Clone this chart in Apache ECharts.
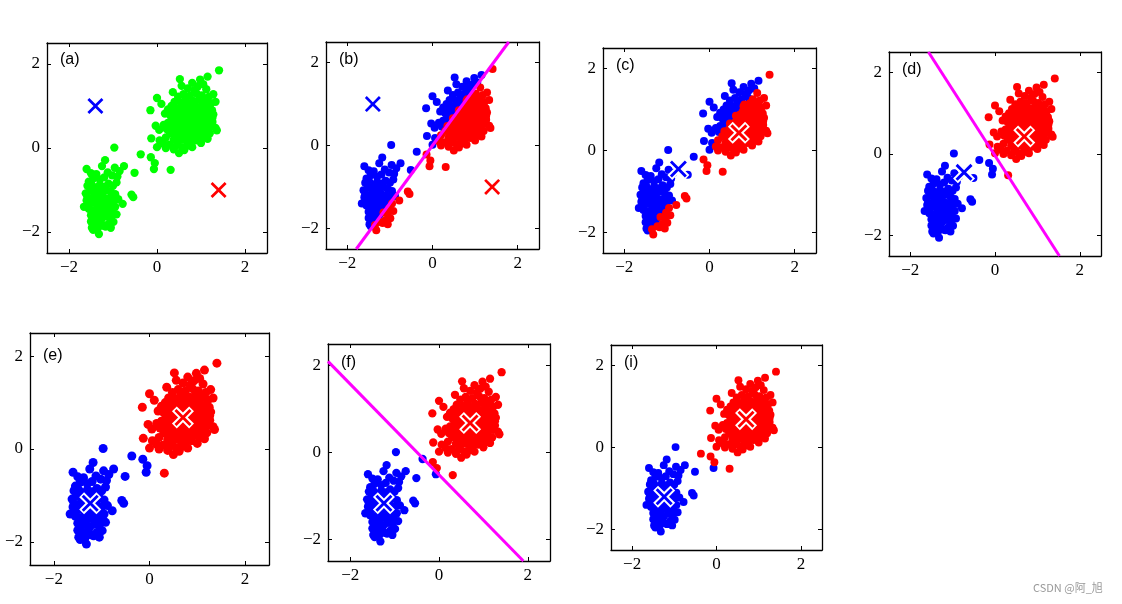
<!DOCTYPE html>
<html>
<head>
<meta charset="utf-8">
<script src="https://cdn.jsdelivr.net/npm/echarts@6/dist/echarts.min.js"></script>
<style>
  html, body { margin: 0; padding: 0; background: #fff; }
  #chart { width: 1122px; height: 604px; }
</style>
</head>
<body>
<div id="chart"></div>
<script>
// Old Faithful (standardised) points
const upperCluster = [
  [1.41,1.85],[1.15,1.70],[0.98,1.63],[0.80,1.55],[0.52,1.64],[0.56,1.48],[0.93,1.47],[1.05,1.52],[0.70,1.42],[1.12,1.40],[0.85,1.38],
  [0.36,1.33],[0.60,1.28],[1.28,1.28],[1.33,1.10],[0.00,1.19],[0.48,1.22],[0.75,1.25],[0.90,1.30],[1.02,1.25],[1.18,1.22],[0.65,1.15],
  [0.82,1.12],[0.95,1.15],[1.10,1.12],[0.40,1.10],[0.55,1.08],[1.22,1.05],
  [0.10,1.05],[-0.15,0.90],[0.25,0.92],[0.33,1.00],[0.45,0.95],[0.58,0.98],[0.70,1.02],[0.78,0.95],[0.88,1.00],[1.00,0.98],[1.08,0.92],
  [1.17,0.95],[1.25,0.90],[0.38,0.85],[0.52,0.88],[0.62,0.85],[0.72,0.88],[0.85,0.85],[0.95,0.88],[1.07,0.88],[1.15,0.82],[1.28,0.80],
  [0.18,0.82],[0.30,0.78],
  [0.42,0.75],[0.55,0.78],[0.66,0.76],[0.78,0.78],[0.90,0.75],[1.00,0.77],[1.10,0.73],[1.20,0.70],[0.35,0.68],[0.48,0.66],[0.60,0.68],
  [0.72,0.66],[0.84,0.68],[0.96,0.65],[1.05,0.62],[1.16,0.60],[1.26,0.62],[0.25,0.60],[0.40,0.57],[0.53,0.58],[0.66,0.55],[0.78,0.58],
  [0.90,0.55],[1.00,0.52],[1.12,0.50],[1.22,0.52],[-0.03,0.53],[0.15,0.55],[1.36,0.42],[1.33,0.48],
  [0.05,0.43],[0.22,0.45],[0.35,0.47],[0.48,0.45],[0.60,0.42],[0.72,0.45],[0.85,0.42],[0.97,0.40],[1.08,0.38],[1.20,0.35],[0.30,0.35],
  [0.42,0.33],[0.55,0.30],[0.68,0.32],[0.80,0.28],[0.92,0.30],[1.05,0.25],[1.15,0.22],[-0.13,0.23],[0.06,0.18],[0.20,0.25],[0.38,0.20],
  [0.50,0.18],[0.62,0.20],[0.75,0.15],[0.88,0.18],[1.00,0.12],
  [0.00,0.02],[0.20,0.00],[0.38,-0.03],[0.50,-0.12],[0.57,0.02],[0.28,0.08],[0.45,0.07],[0.68,0.05],[0.80,0.02],[0.15,0.10],[0.62,-0.05],
  [0.58,0.62],[0.70,0.72],[0.82,0.62],[0.94,0.72],[1.04,0.82],[0.64,0.92],[0.76,0.82],[0.88,0.92],[0.98,0.80],[0.50,0.72],[0.68,0.40],
  [0.80,0.48],[0.92,0.48],[1.02,0.45],[0.58,0.50],[0.74,0.60],[0.86,0.58],[1.10,0.60],[0.46,0.52],[1.14,0.68],[0.98,0.30],[0.86,0.35],
  [0.72,0.25],[0.62,1.05],[0.80,1.08],[1.04,1.05],[0.46,0.38],[1.26,0.72],[0.34,0.90],[0.56,0.35]
];
const bridgePoints = [[-0.37,-0.15],[-0.14,-0.22],[-0.05,-0.36],[-0.07,-0.50],[0.31,-0.52]];
const lowerCluster = [
  [-0.97,0.01],[-0.75,-0.43],[-0.51,-0.59],[-0.58,-1.11],[-0.54,-1.17],[-0.78,-1.33],[-1.18,-0.29],[-1.25,-0.43],[-1.60,-0.50],
  [-0.96,-0.47],[-1.66,-1.40],[-0.99,-1.76],[-1.17,-1.87],[-1.32,-2.05],[-1.48,-1.90],
  [-1.50,-0.60],[-1.38,-0.62],[-1.12,-0.58],[-1.02,-0.65],[-0.90,-0.68],[-1.45,-0.72],[-1.30,-0.75],[-1.20,-0.70],[-0.85,-0.55],[-1.55,-0.80],
  [-1.58,-0.90],[-1.48,-0.88],[-1.40,-0.95],[-1.30,-0.88],[-1.20,-0.92],[-1.10,-0.85],[-1.00,-0.90],[-0.92,-0.82],[-1.52,-1.02],[-1.42,-1.08],
  [-1.33,-1.02],[-1.25,-1.05],[-1.15,-1.00],[-1.05,-1.05],[-0.95,-1.10],[-1.62,-1.08],
  [-1.58,-1.18],[-1.48,-1.20],[-1.38,-1.15],[-1.30,-1.22],[-1.20,-1.18],[-1.10,-1.20],[-1.00,-1.25],[-0.88,-1.22],[-1.52,-1.32],[-1.42,-1.30],
  [-1.35,-1.35],[-1.25,-1.32],[-1.15,-1.35],[-1.05,-1.38],[-0.95,-1.40],[-1.60,-1.25],
  [-1.55,-1.45],[-1.45,-1.48],[-1.38,-1.52],[-1.30,-1.45],[-1.22,-1.50],[-1.12,-1.48],[-1.02,-1.52],[-1.50,-1.60],[-1.42,-1.65],[-1.33,-1.62],
  [-1.25,-1.68],[-1.15,-1.62],[-1.05,-1.65],[-0.92,-1.58],
  [-1.50,-1.75],[-1.40,-1.80],[-1.30,-1.78],[-1.22,-1.85],[-1.10,-1.80],[-1.45,-1.95],[-1.35,-1.92],[-1.05,-1.90]
];

// cluster centres [blue, red] at each stage
const centersA = [[-1.40, 1.00], [1.40, -1.00]];
const centersC = [[-0.73, -0.45], [0.69, 0.43]];
const centersE = [[-1.24, -1.17], [0.70, 0.68]];
const centersI = [[-1.24, -1.20], [0.70, 0.69]];

// decision boundaries (end points in data units)
const lineB = [[-1.79, -2.5], [1.79, 2.5]];
const lineD = [[-1.57, 2.5], [1.52, -2.5]];
const lineF = [[-2.5, 2.1], [1.9, -2.5]];

const tickValues = [-2, 0, 2];

const allPoints = upperCluster.concat(bridgePoints, lowerCluster);

// layout of the seven panels (pixel boxes)
const panels = [
  {label: '(a)', left: 47,  top: 43,  width: 220, height: 210, ly: 10, assign: null,     centres: centersA, outlined: false, line: null},
  {label: '(b)', left: 326, top: 42,  width: 213, height: 207, ly: 11, assign: centersA, centres: centersA, outlined: false, line: lineB},
  {label: '(c)', left: 603, top: 48,  width: 213, height: 205, ly: 11, assign: centersA, centres: centersC, outlined: true,  line: null},
  {label: '(d)', left: 889, top: 52,  width: 212, height: 204, ly: 11, assign: centersC, centres: centersC, outlined: true,  line: lineD},
  {label: '(e)', left: 30,  top: 333, width: 239, height: 232, ly: 16, assign: centersC, centres: centersE, outlined: true,  line: null},
  {label: '(f)', left: 328, top: 344, width: 222, height: 217, ly: 12, assign: centersE, centres: centersE, outlined: true,  line: lineF},
  {label: '(i)', left: 611, top: 345, width: 211, height: 205, ly: 11, assign: centersI, centres: centersI, outlined: true,  line: null}
];

const BLUE = '#0000ff', RED = '#ff0000', GREEN = '#00ff00', MAGENTA = '#ff00ff';
const crossThin = 'path://M1.2 0L5 3.8L8.8 0L10 1.2L6.2 5L10 8.8L8.8 10L5 6.2L1.2 10L0 8.8L3.8 5L0 1.2Z';
const crossFat = 'path://M2.2 0L5 2.8L7.8 0L10 2.2L7.2 5L10 7.8L7.8 10L5 7.2L2.2 10L0 7.8L2.8 5L0 2.2Z';

const minusFmt = v => (v < 0 ? '\u2212' + (-v) : String(v));

function dist2(p, c) {
  return (p[0] - c[0]) * (p[0] - c[0]) + (p[1] - c[1]) * (p[1] - c[1]);
}

const grid = [], xAxis = [], yAxis = [], series = [], graphic = [];

panels.forEach((p, i) => {
  grid.push({left: p.left, top: p.top, width: p.width, height: p.height});

  const lineStyle = {color: '#000', width: 1.3};
  const tick = {show: true, inside: true, length: 4, customValues: tickValues, lineStyle: {color: '#000', width: 1}};
  const base = {gridIndex: i, type: 'value', min: -2.5, max: 2.5, splitLine: {show: false},
    axisLine: {show: true, onZero: false, lineStyle}, axisTick: tick};

  xAxis.push(Object.assign({}, base, {position: 'bottom',
    axisLabel: {customValues: tickValues, formatter: minusFmt, color: '#000', fontSize: 17,
      fontFamily: 'Liberation Serif', margin: 6}}));
  xAxis.push(Object.assign({}, base, {position: 'top', axisLabel: {show: false}}));
  yAxis.push(Object.assign({}, base, {position: 'left',
    axisLabel: {customValues: tickValues, formatter: minusFmt, color: '#000', fontSize: 17,
      fontFamily: 'Liberation Serif', margin: 7}}));
  yAxis.push(Object.assign({}, base, {position: 'right', axisLabel: {show: false}}));

  const xi = i * 2, yi = i * 2;
  const dot = Math.round(8 * p.width / 213 * 10) / 10;

  if (!p.assign) {
    series.push({type: 'scatter', xAxisIndex: xi, yAxisIndex: yi, data: allPoints,
      symbolSize: dot, itemStyle: {color: GREEN, opacity: 1}, z: 2, silent: true});
  } else {
    const blue = allPoints.filter(pt => dist2(pt, p.assign[0]) <= dist2(pt, p.assign[1]));
    const red = allPoints.filter(pt => dist2(pt, p.assign[0]) > dist2(pt, p.assign[1]));
    series.push({type: 'scatter', xAxisIndex: xi, yAxisIndex: yi, data: blue,
      symbolSize: dot, itemStyle: {color: BLUE, opacity: 1}, z: 2, silent: true});
    series.push({type: 'scatter', xAxisIndex: xi, yAxisIndex: yi, data: red,
      symbolSize: dot, itemStyle: {color: RED, opacity: 1}, z: 2, silent: true});
  }

  if (p.line) {
    series.push({type: 'line', xAxisIndex: xi, yAxisIndex: yi, data: p.line, symbol: 'none',
      lineStyle: {color: MAGENTA, width: 3}, z: 3, silent: true, clip: true});
  }

  if (p.outlined) {
    series.push({type: 'scatter', xAxisIndex: xi, yAxisIndex: yi, data: p.centres,
      symbol: crossFat, symbolSize: 22, itemStyle: {color: '#fff', opacity: 1}, z: 4, silent: true});
    series.push({type: 'scatter', xAxisIndex: xi, yAxisIndex: yi, data: [p.centres[0]],
      symbol: crossThin, symbolSize: 17, itemStyle: {color: BLUE, opacity: 1}, z: 5, silent: true});
    series.push({type: 'scatter', xAxisIndex: xi, yAxisIndex: yi, data: [p.centres[1]],
      symbol: crossThin, symbolSize: 17, itemStyle: {color: RED, opacity: 1}, z: 5, silent: true});
  } else {
    series.push({type: 'scatter', xAxisIndex: xi, yAxisIndex: yi, data: [p.centres[0]],
      symbol: crossThin, symbolSize: 16, itemStyle: {color: BLUE, opacity: 1}, z: 5, silent: true});
    series.push({type: 'scatter', xAxisIndex: xi, yAxisIndex: yi, data: [p.centres[1]],
      symbol: crossThin, symbolSize: 16, itemStyle: {color: RED, opacity: 1}, z: 5, silent: true});
  }

  graphic.push({type: 'text', left: p.left + 13, top: p.top + p.ly - 1, z: 10,
    style: {text: p.label, fill: '#000', font: '16px "Liberation Sans"'}});
});

graphic.push({type: 'text', left: 1033, top: 582, z: 10,
  style: {text: 'CSDN @阿_旭', fill: '#999', font: '11px "Noto Sans CJK SC"'}});

const chart = echarts.init(document.getElementById('chart'));
chart.setOption({
  animation: false,
  backgroundColor: '#fff',
  grid, xAxis, yAxis, series, graphic
});
</script>
</body>
</html>
